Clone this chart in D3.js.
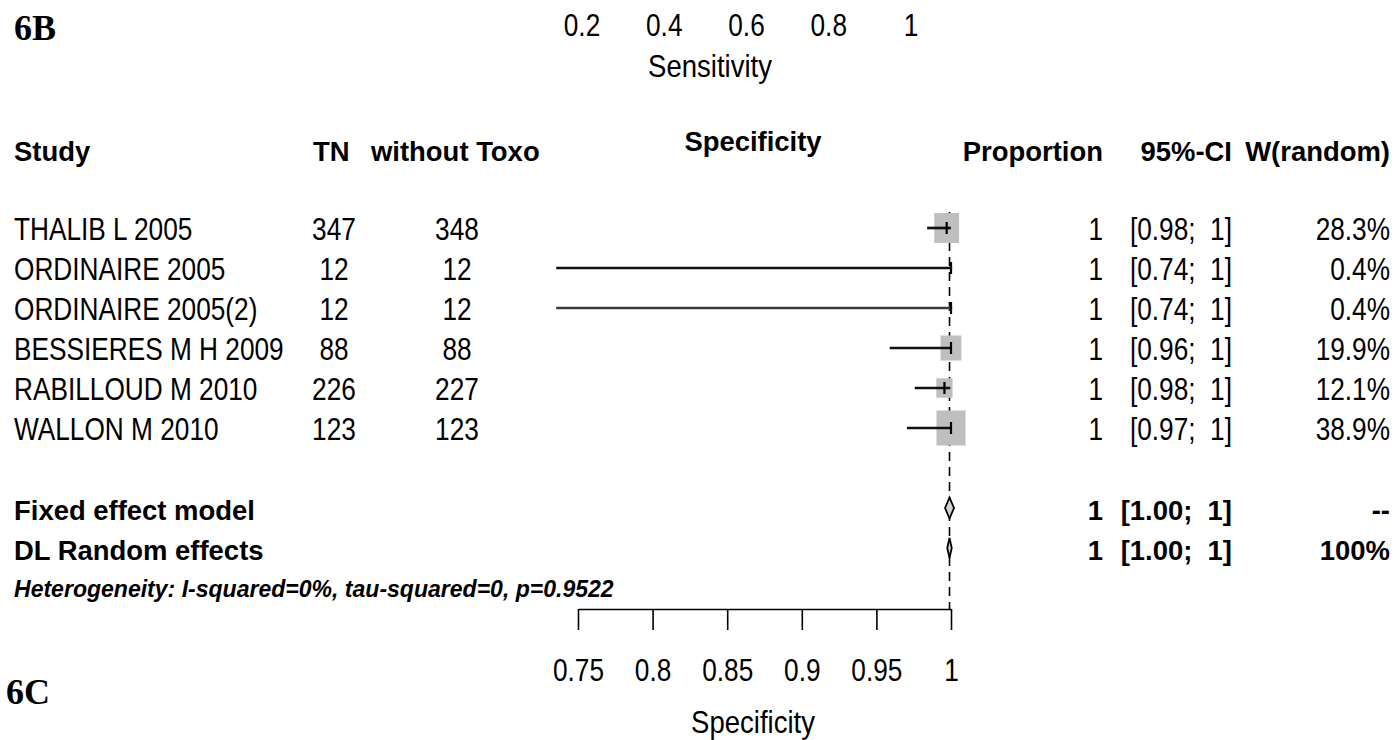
<!DOCTYPE html>
<html>
<head>
<meta charset="utf-8">
<script src="https://cdn.jsdelivr.net/npm/d3@7"></script>
<style>
  body { margin: 0; background: #fff; }
  svg { display: block; }
  text { fill: #000; white-space: pre; }
</style>
</head>
<body>
<div id="chart"></div>
<script>
// study rows
const studies = ['THALIB L 2005', 'ORDINAIRE 2005', 'ORDINAIRE 2005(2)', 'BESSIERES M H 2009', 'RABILLOUD M 2010', 'WALLON M 2010'];
const tnValues = [347, 12, 12, 88, 226, 123];
const totalValues = [348, 12, 12, 88, 227, 123];
const proportions = [0.9971, 1, 1, 1, 0.9956, 1];
const ciLower = [0.984, 0.7354, 0.7354, 0.9589, 0.9757, 0.9705];
const ciUpper = [0.9999, 1, 1, 1, 0.9995, 1];
const weights = [28.3, 0.4, 0.4, 19.9, 12.1, 38.9];
const propLabels = ['1', '1', '1', '1', '1', '1'];
const ciLabels = ['[0.98;  1]', '[0.74;  1]', '[0.74;  1]', '[0.96;  1]', '[0.98;  1]', '[0.97;  1]'];
const weightLabels = ['28.3%', '0.4%', '0.4%', '19.9%', '12.1%', '38.9%'];

// pooled rows
const pooledNames = ['Fixed effect model', 'DL Random effects'];
const pooledEst = [0.999, 0.999];
const pooledLower = [0.996, 0.9975];
const pooledUpper = [1.002, 1.0005];
const pooledProp = ['1', '1'];
const pooledCI = ['[1.00;  1]', '[1.00;  1]'];
const pooledW = ['--', '100%'];
const heterogeneity = 'Heterogeneity: I-squared=0%, tau-squared=0, p=0.9522';

const specTicks = [0.75, 0.8, 0.85, 0.9, 0.95, 1];
const sensTicks = [0.2, 0.4, 0.6, 0.8, 1];

const W = 1396, H = 740;
const svg = d3.select('#chart').append('svg').attr('width', W).attr('height', H);

const x = d3.scaleLinear().domain([0.75, 1]).range([578, 951]);
const xSens = d3.scaleLinear().domain([0.2, 1]).range([582, 911]);
const rowY = d3.scaleLinear().domain([0, 1]).range([228, 268]);
const boxSize = d3.scaleSqrt().domain([0, 38.9]).range([0, 35]);

const SQ = 0.82; // horizontal squeeze of the regular text

function txt(xp, yp, s, opts) {
    opts = opts || {};
    const t = svg.append('text')
        .attr('transform', `translate(${xp},${yp}) scale(${opts.sx || SQ},1)`)
        .attr('text-anchor', opts.anchor || 'start')
        .attr('xml:space', 'preserve')
        .attr('font-family', opts.family || 'Liberation Sans, Arial, sans-serif')
        .attr('font-size', (opts.size || 32) + 'px')
        .attr('font-weight', opts.bold ? 'bold' : 'normal')
        .attr('font-style', opts.italic ? 'italic' : 'normal')
        .text(s);
    return t;
}

// panel labels
txt(14, 40, '6B', {family: 'Liberation Serif, Times New Roman, serif', bold: true, size: 36, sx: 1});
txt(6, 704, '6C', {family: 'Liberation Serif, Times New Roman, serif', bold: true, size: 36, sx: 1});

// top axis (sensitivity) labels only
sensTicks.forEach(v => txt(xSens(v), 36, d3.format('')(v), {anchor: 'middle'}));
txt(710, 77, 'Sensitivity', {anchor: 'middle', sx: 0.86});

// column headers
const hdr = {bold: true, size: 28, sx: 0.98};
txt(14, 161, 'Study', hdr);
txt(313, 161, 'TN', hdr);
txt(371, 161, 'without Toxo', hdr);
txt(753, 151, 'Specificity', Object.assign({anchor: 'middle'}, hdr));
txt(1103, 161, 'Proportion', Object.assign({anchor: 'end'}, hdr));
txt(1232, 161, '95%-CI', Object.assign({anchor: 'end'}, hdr));
txt(1390, 161, 'W(random)', Object.assign({anchor: 'end'}, hdr));

// reference line at pooled estimate
svg.append('line')
    .attr('x1', x(pooledEst[1])).attr('x2', x(pooledEst[1]))
    .attr('y1', rowY(0) - 16).attr('y2', 609)
    .attr('stroke', '#000').attr('stroke-width', 1.6)
    .attr('stroke-dasharray', '9,6');

// study rows
studies.forEach((name, i) => {
    const cy = rowY(i);
    const base = cy + 12;
    txt(14, base, name);
    txt(334, base, tnValues[i], {anchor: 'middle'});
    txt(457, base, totalValues[i], {anchor: 'middle'});
    txt(1103, base, propLabels[i], {anchor: 'end'});
    txt(1232, base, ciLabels[i], {anchor: 'end'});
    txt(1390, base, weightLabels[i], {anchor: 'end'});

    const h = boxSize(weights[i]);
    const w = h * 0.83;
    svg.append('rect')
        .attr('x', x(proportions[i]) - w / 2).attr('y', cy - h / 2)
        .attr('width', w).attr('height', h)
        .attr('fill', '#bfbfbf');

    svg.append('line')
        .attr('x1', x(ciLower[i])).attr('x2', x(ciUpper[i]))
        .attr('y1', cy).attr('y2', cy)
        .attr('stroke', i === 2 ? '#3a3a3a' : '#111').attr('stroke-width', 2.7);
    svg.append('line')
        .attr('x1', x(proportions[i])).attr('x2', x(proportions[i]))
        .attr('y1', cy - 6).attr('y2', cy + 6)
        .attr('stroke', '#000').attr('stroke-width', 2.2);
});

// pooled rows
pooledNames.forEach((name, j) => {
    const cy = rowY(7 + j);
    const base = cy + 12;
    const b = {bold: true, size: 28, sx: 0.98};
    txt(14, base, name, b);
    txt(1103, base, pooledProp[j], Object.assign({anchor: 'end'}, b));
    txt(1232, base, pooledCI[j], Object.assign({anchor: 'end'}, b));
    txt(1390, base, pooledW[j], Object.assign({anchor: 'end'}, b));

    const hh = j === 0 ? 10.5 : 10;
    svg.append('path')
        .attr('d', `M${x(pooledLower[j])},${cy} L${x(pooledEst[j])},${cy - hh} L${x(pooledUpper[j])},${cy} L${x(pooledEst[j])},${cy + hh} Z`)
        .attr('fill', '#d4d4d4').attr('stroke', '#000').attr('stroke-width', 1.8);
});

txt(14, 597, heterogeneity, {bold: true, italic: true, size: 24, sx: 0.96});

// bottom axis (specificity)
const axis = svg.append('g')
    .attr('transform', 'translate(0,609)')
    .call(d3.axisBottom(x).tickValues(specTicks).tickSize(21).tickSizeOuter(0).tickFormat(d3.format('')));
axis.select('.domain').attr('stroke', '#000').attr('stroke-width', 1.6);
axis.selectAll('.tick line').attr('stroke', '#000').attr('stroke-width', 1.6);
axis.selectAll('.tick text')
    .attr('y', 72).attr('dy', 0)
    .attr('transform', `scale(${SQ},1)`)
    .attr('font-family', 'Liberation Sans, Arial, sans-serif')
    .attr('font-size', '32px')
    .attr('fill', '#000');

txt(753, 733, 'Specificity', {anchor: 'middle', sx: 0.86});
</script>
</body>
</html>
